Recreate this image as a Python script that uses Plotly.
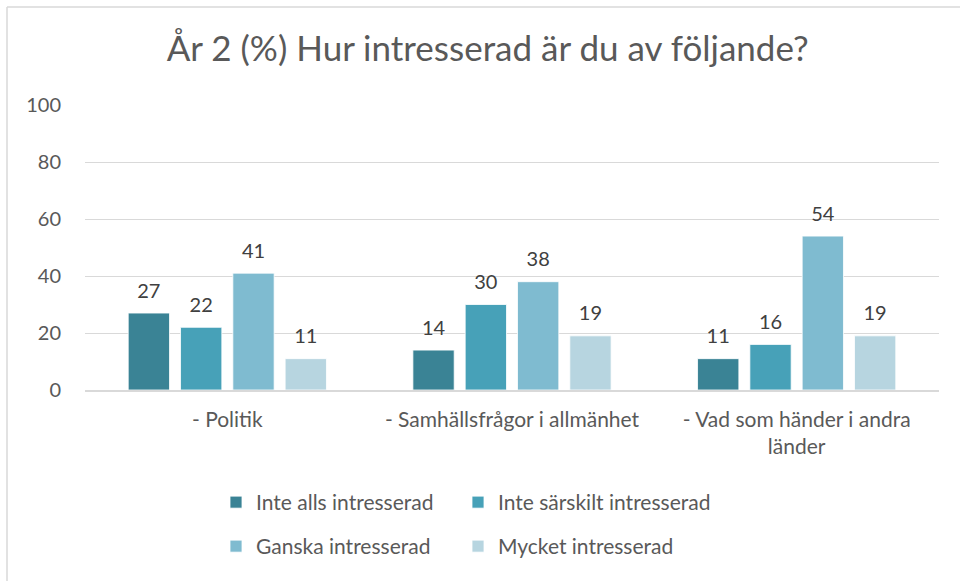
import plotly.graph_objects as go

categories = ["- Politik", "- Samhällsfrågor i allmänhet", "- Vad som händer i andra<br>länder"]
series_names = ["Inte alls intresserad", "Inte särskilt intresserad", "Ganska intresserad", "Mycket intresserad"]
inte_alls = [27, 14, 11]
inte_sarskilt = [22, 30, 16]
ganska = [41, 38, 54]
mycket = [11, 19, 19]
y_ticks = [0, 20, 40, 60, 80, 100]

series_values = [inte_alls, inte_sarskilt, ganska, mycket]
colors = ["#3A8395", "#47A1B8", "#7FBBD0", "#B7D5E0"]
legends = ["legend", "legend", "legend2", "legend2"]
legend_widths = [197, 280, 197, 280]

FONT = "Lato, 'Open Sans', sans-serif"

fig = go.Figure()
for i, (name, vals, col, lg, lw) in enumerate(zip(series_names, series_values, colors, legends, legend_widths)):
    fig.add_trace(go.Bar(
        x=categories, y=vals, name=name,
        marker=dict(color=col, line=dict(color="white", width=0.8)),
        legend=lg, legendwidth=lw, offsetgroup=str(i),
    ))
# value labels, grouped the same way as the bars
for i, vals in enumerate(series_values):
    fig.add_trace(go.Scatter(
        x=categories, y=vals, text=[str(v) for v in vals],
        mode="markers+text", textposition="top center",
        marker=dict(size=15, opacity=0), orientation="v",
        textfont=dict(family=FONT, size=20, color="#404040"),
        showlegend=False, hoverinfo="skip", cliponaxis=False,
        offsetgroup=str(i),
    ))

W, H = 960, 581
L, R, T, B = 85, 21, 105, 191
pw, ph = W - L - R, H - T - B

def px_x(px):
    return (px - L) / pw

def px_y(py):
    return (H - B - py) / ph

fig.update_layout(
    width=W, height=H,
    margin=dict(l=L, r=R, t=T, b=B),
    paper_bgcolor="white", plot_bgcolor="white",
    barmode="group", bargap=0.265, bargroupgap=0.21,
    scattermode="group", scattergap=0.265,
    font=dict(family=FONT, color="#595959", size=21),
    title=dict(text="År 2 (%) Hur intresserad är du av följande?",
               x=0.508, xanchor="center", y=1 - 49 / H, yanchor="middle",
               font=dict(family=FONT, size=35, color="#595959")),
    yaxis=dict(range=[0, 100], tickvals=y_ticks, showgrid=True, gridcolor="#D9D9D9",
               gridwidth=1, zeroline=False, showline=False, ticks="",
               ticklabelstandoff=23, tickfont=dict(size=20, color="#595959")),
    xaxis=dict(showline=True, linecolor="#D9D9D9", linewidth=1.5, ticks="",
               ticklabelstandoff=10, tickfont=dict(size=21, color="#595959")),
    legend=dict(orientation="h", x=px_x(216), xanchor="left", y=px_y(482), yanchor="top",
                entrywidthmode="pixels", font=dict(size=21, color="#595959"),
                bgcolor="rgba(0,0,0,0)", traceorder="normal"),
    legend2=dict(orientation="h", x=px_x(216), xanchor="left", y=px_y(526), yanchor="top",
                 entrywidthmode="pixels", font=dict(size=21, color="#595959"),
                 bgcolor="rgba(0,0,0,0)", traceorder="normal"),
    shapes=[
        dict(type="line", xref="paper", yref="paper", x0=px_x(7), x1=px_x(7),
             y0=px_y(7), y1=px_y(600), line=dict(color="#D9D9D9", width=1.5)),
        dict(type="line", xref="paper", yref="paper", x0=px_x(7), x1=px_x(1000),
             y0=px_y(7), y1=px_y(7), line=dict(color="#D9D9D9", width=1.5)),
    ],
)

fig.write_html("out.html", config={"displayModeBar": False},
               post_script="document.body.style.margin='0';")
